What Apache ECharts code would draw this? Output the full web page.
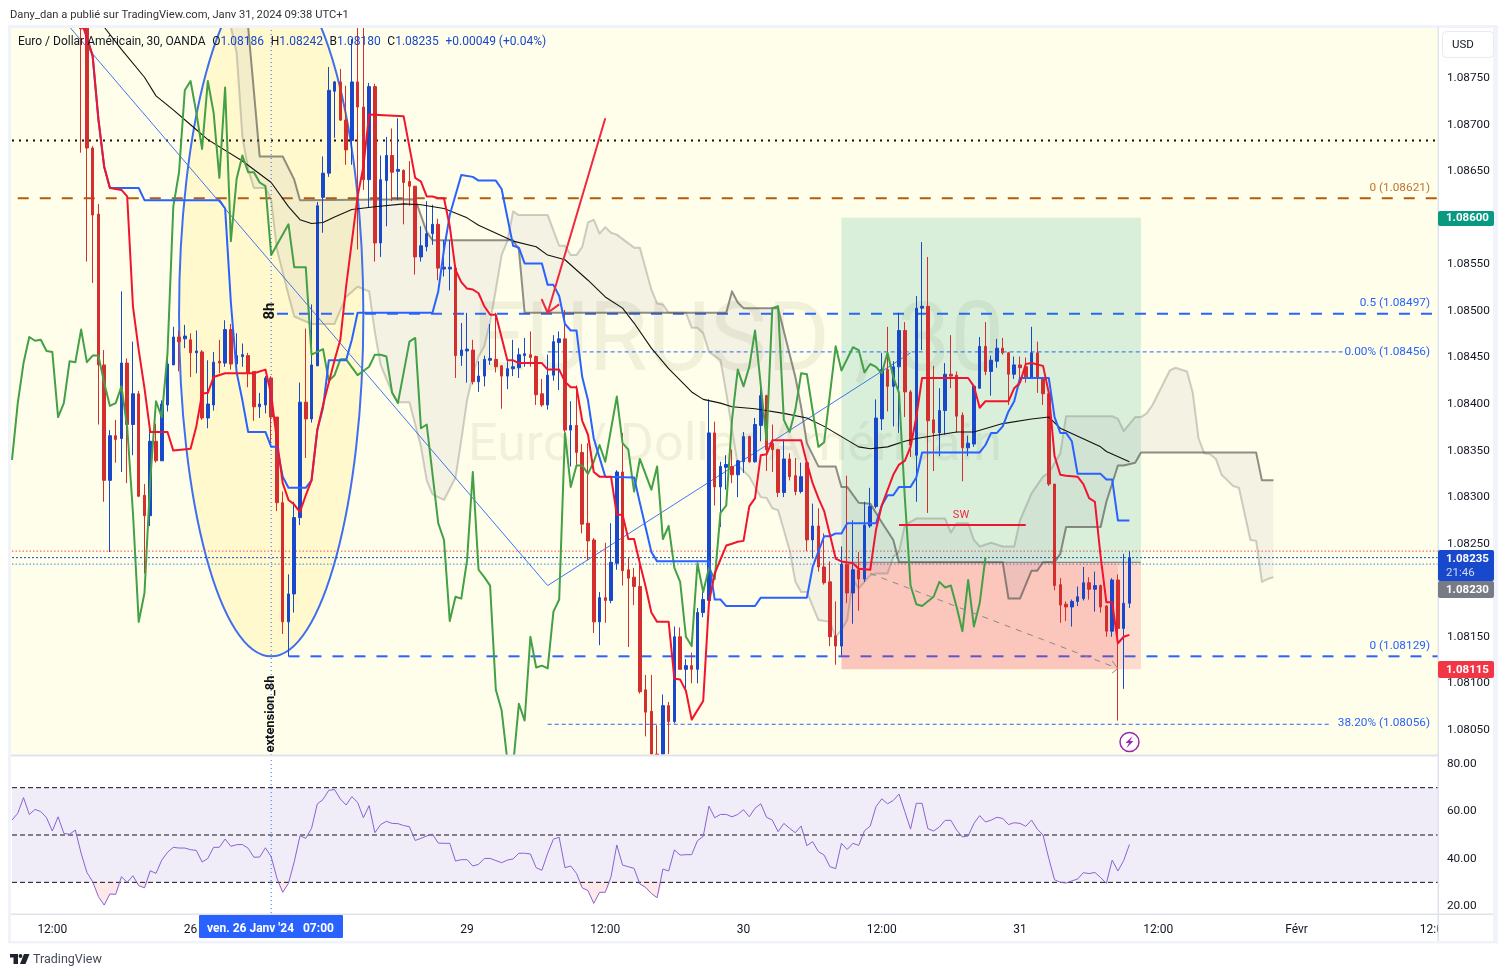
<!DOCTYPE html>
<html><head><meta charset="utf-8"><title>EURUSD</title>
<style>html,body{margin:0;padding:0;background:#fff}#c{width:1508px;height:977px}</style>
<script src="https://cdn.jsdelivr.net/npm/echarts@6/dist/echarts.min.js"></script></head>
<body><div id="c"></div>
<script>
// All prices below are written as n, meaning 1.08000 + n/100000. Line arrays hold [bar index, n].
const priceOf = n => +(1.08 + n / 100000).toFixed(5);
const firstCandle = 12;
// [open, close, low, high]; bars running off the pane are held at the pane edge
const candles = [
[805,803,670,805],[805,675,553,805],[675,603,530,677],[604,442,378,615],[442,318,295,458],[318,366,241,372],[366,362,337,383],[363,444,327,521],[444,378,315,449],[378,411,345,467],
[411,301,300,414],[302,280,218,314],[280,360,269,378],[360,339,337,379],[339,400,339,404],[399,443,392,451],[442,472,442,483],[472,467,435,479],[470,473,460,485],[469,455,429,476],
[455,457,433,479],[456,385,383,458],[385,400,374,447],[399,445,393,456],[446,444,433,469],[444,480,440,490],[480,443,437,486],[443,452,437,476],[451,453,440,465],[452,433,418,455],
[435,397,382,435],[397,400,385,412],[399,428,390,430],[428,386,358,430],[386,294,285,386],[294,166,153,306],[166,196,129,217],[196,278,176,295],[278,402,270,423],[402,384,342,481],
[384,442,380,507],[441,613,441,617],[622,648,584,666],[648,737,644,762],[736,746,686,747],[746,705,704,760],[705,673,657,742],[683,746,657,792],[746,719,566,805],[719,641,630,805],
[641,741,611,745],[741,573,553,744],[573,641,558,667],[640,667,591,687],[667,649,618,696],[650,652,619,707],[651,638,593,652],[639,634,613,661],[634,558,539,634],[558,570,553,591],
[569,583,564,618],[583,593,571,614],[593,546,533,599],[545,547,537,576],[545,547,522,576],[546,452,428,548],[452,458,441,487],[457,459,423,498],[458,424,421,469],[424,430,413,446],
[430,448,419,452],[447,449,442,486],[448,440,434,498],[441,430,395,442],[430,438,416,446],[438,440,430,469],[439,453,428,460],[452,454,440,471],[453,450,440,478],[451,410,399,452],
[411,399,397,427],[399,431,394,453],[431,467,425,474],[466,470,415,478],[470,372,370,501],[372,377,333,403],[377,348,333,420],[348,271,261,357],[272,253,232,358],[254,166,154,256],
[166,192,141,198],[192,189,165,251],[189,230,186,272],[229,327,222,329],[327,221,205,369],[222,213,139,235],[214,204,184,224],[204,91,89,235],[93,69,43,109],[70,24,24,109],
[24,23,23,55],[24,76,24,88],[76,59,24,80],[59,150,57,161],[150,115,115,160],[115,119,93,126],[119,115,100,133],[115,176,100,181],[176,190,171,198],[189,369,189,405],
[369,311,291,381],[311,333,268,338],[332,335,308,345],[333,324,315,351],[324,339,300,340],[338,365,326,370],[365,338,337,366],[338,378,337,385],[377,409,360,423],[409,351,328,410],
[358,351,327,378],[351,305,300,352],[305,341,300,362],[341,322,318,347],[323,306,302,342],[306,322,304,337],[337,254,242,339],[254,269,234,293],[269,225,220,288],[225,208,206,261],
[209,150,140,231],[151,140,120,188],[140,228,130,247],[228,197,186,323],[197,222,164,275],[222,212,178,241],[212,270,209,295],[269,290,267,310],[290,385,288,405],[384,437,372,455],
[437,419,392,483],[419,440,376,446],[440,479,369,498],[479,413,386,488],[413,356,343,415],[345,503,295,516],[503,505,458,574],[505,382,283,558],[383,369,328,441],[369,393,344,417],
[393,432,367,444],[432,430,417,474],[431,387,369,435],[388,353,317,391],[353,358,344,366],[357,419,354,419],[417,462,417,472],[462,435,431,488],[435,447,409,452],[446,460,439,470],
[460,455,453,471],[455,432,399,456],[432,442,427,451],[442,439,420,451],[440,429,423,450],[429,455,428,483],[455,428,412,467],[428,411,399,429],[411,314,312,412],[314,205,200,314],
[206,184,165,213],[185,182,167,188],[182,188,161,190],[188,193,183,204],[191,208,189,225],[208,201,190,214],[201,205,177,220],[205,182,176,206],[183,156,150,184],[156,211,150,213],
[211,159,60,217],[159,186,94,239],[186,235,181,242]];

const blueLine = [[12,813],[14,774],[15,706],[16,655],[17,632],[22,632],[23,619],[36,619],[37,610],[38,509],[39,434],[40,404],[41,370],[44,370],[45,354],[46,354],[47,322],[48,310],[51,310],[52,318],[53,372],[54,396],[55,447],[58,447],[59,469],[60,498],[73,498],[74,521],[75,566],[76,603],[78,646],[80,644],[81,640],[84,640],[85,631],[87,570],[88,568],[89,551],[92,551],[93,528],[94,528],[95,516],[96,486],[97,479],[98,479],[99,429],[100,404],[101,363],[103,322],[108,321],[109,294],[111,241],[112,231],[121,231],[122,190],[123,190],[124,183],[129,183],[130,192],[138,192],[139,225],[141,258],[142,258],[143,261],[144,261],[145,272],[150,272],[151,291],[152,302],[153,302],[154,311],[156,311],[157,321],[158,348],[168,348],[169,356],[170,369],[171,369],[172,376],[173,392],[174,403],[175,428],[180,428],[181,386],[182,369],[183,369],[184,360],[185,325],[189,325],[190,319],[191,319],[192,275],[194,275]];

const redLine = [[12,813],[14,774],[15,706],[16,655],[17,632],[19,630],[20,623],[21,505],[22,458],[23,417],[24,370],[27,370],[28,350],[31,352],[32,376],[33,411],[34,412],[35,429],[37,433],[42,433],[44,437],[45,410],[46,361],[47,315],[48,297],[49,292],[50,284],[51,302],[52,318],[53,372],[54,399],[56,447],[57,469],[58,526],[60,623],[61,655],[62,711],[68,709],[70,643],[71,639],[72,623],[73,623],[74,621],[75,621],[76,591],[77,544],[78,531],[79,524],[80,523],[81,519],[82,505],[83,496],[84,496],[86,447],[87,447],[88,444],[92,444],[93,437],[95,437],[96,424],[97,418],[98,418],[99,382],[100,367],[101,327],[102,322],[104,322],[105,281],[106,281],[107,255],[108,255],[109,229],[110,204],[111,176],[112,166],[114,166],[115,105],[116,104],[117,92],[118,61],[120,81],[121,187],[122,218],[123,233],[124,248],[125,250],[126,252],[127,253],[128,290],[129,299],[130,345],[131,346],[132,361],[137,361],[138,337],[139,315],[140,299],[141,285],[143,234],[144,231],[146,229],[147,223],[149,222],[150,265],[151,291],[153,324],[154,335],[155,339],[156,354],[157,386],[158,428],[166,428],[167,419],[168,396],[169,403],[173,403],[174,417],[175,423],[176,443],[177,444],[179,441],[180,412],[181,344],[182,324],[183,323],[185,322],[186,314],[187,299],[188,295],[189,236],[190,187],[191,187],[192,143],[193,150],[194,152]];

const greenLine = [[0,340],[1,401],[2,444],[3,472],[4,468],[5,469],[6,457],[7,456],[8,386],[9,401],[10,446],[11,445],[12,480],[13,445],[14,452],[15,452],[16,423],[17,398],[18,401],[19,419],[20,375],[21,283],[22,166],[23,197],[24,318],[25,403],[26,386],[27,455],[28,612],[29,649],[30,737],[31,747],[32,713],[33,674],[34,747],[35,713],[36,643],[37,740],[38,575],[39,642],[40,667],[41,649],[42,649],[43,638],[44,634],[45,560],[48,593],[49,547],[51,547],[52,453],[54,459],[55,425],[56,431],[57,448],[58,448],[60,431],[62,440],[63,453],[64,453],[65,451],[66,412],[67,401],[69,467],[70,471],[71,374],[72,378],[74,272],[75,254],[76,167],[77,193],[78,191],[79,232],[80,327],[81,222],[82,214],[83,205],[84,93],[85,71],[86,17],[87,12],[88,78],[89,60],[90,150],[91,117],[92,119],[93,116],[94,177],[95,190],[96,369],[97,311],[98,334],[99,334],[100,325],[101,338],[102,356],[103,338],[105,408],[106,358],[107,351],[108,306],[109,341],[111,308],[112,333],[113,255],[114,269],[115,224],[116,209],[117,150],[118,140],[119,229],[120,198],[121,224],[122,212],[123,283],[124,291],[125,383],[126,437],[127,419],[128,440],[129,479],[131,361],[132,503],[133,505],[134,383],[135,370],[136,394],[137,433],[138,432],[140,354],[141,359],[143,462],[144,436],[146,461],[147,458],[148,434],[149,443],[150,440],[151,433],[152,455],[153,429],[154,412],[155,300],[156,205],[157,185],[158,183],[160,193],[161,209],[162,203],[163,205],[164,182],[165,156],[166,211],[167,161],[168,186],[169,235]];

const blackLine = [[16,805],[19,781],[23,751],[25,731],[28,716],[31,700],[34,684],[40,661],[45,638],[48,612],[50,598],[52,594],[54,595],[56,601],[59,609],[63,612],[68,615],[71,614],[75,610],[79,600],[81,592],[87,575],[91,569],[93,560],[96,555],[98,544],[100,533],[103,515],[106,503],[108,487],[111,460],[114,438],[118,413],[120,405],[123,401],[125,397],[129,395],[134,390],[138,385],[141,376],[144,365],[147,354],[149,352],[152,354],[155,360],[157,363],[161,367],[164,370],[167,370],[172,379],[177,384],[180,386],[182,374],[189,354],[190,349],[194,338]];

const spanA = [[38,805],[39,777],[40,687],[41,652],[42,632],[44,632],[45,619],[46,566],[48,517],[49,494],[52,486],[56,486],[58,515],[60,526],[62,521],[63,477],[64,442],[66,412],[67,402],[69,402],[71,354],[72,318],[73,303],[75,297],[77,321],[78,361],[79,404],[80,431],[81,451],[82,462],[83,488],[84,523],[85,560],[86,575],[87,607],[88,603],[93,603],[95,570],[96,570],[97,560],[98,560],[99,569],[100,595],[101,598],[102,583],[103,590],[104,584],[105,582],[108,568],[109,568],[111,523],[112,508],[113,507],[114,498],[117,498],[118,482],[119,482],[120,476],[121,456],[123,447],[124,412],[126,334],[128,322],[129,311],[130,300],[131,299],[132,288],[133,286],[135,243],[136,209],[137,198],[138,198],[140,168],[142,166],[143,150],[144,157],[145,168],[146,211],[147,202],[149,216],[150,218],[152,218],[153,236],[154,241],[155,270],[157,277],[162,277],[163,262],[164,272],[166,272],[167,254],[168,247],[170,251],[172,247],[174,247],[175,275],[177,304],[179,322],[180,326],[182,347],[183,387],[191,387],[192,384],[193,371],[195,386],[196,386],[197,390],[198,399],[201,436],[202,439],[204,435],[205,412],[206,363],[207,347],[208,346],[209,341],[210,324],[211,318],[212,312],[213,310],[215,254],[216,253],[217,209],[218,212],[219,214]];

const spanB = [[41,805],[43,666],[47,666],[49,641],[50,619],[70,620],[72,585],[73,576],[87,576],[88,566],[89,498],[124,498],[125,521],[126,509],[127,503],[133,503],[136,429],[137,397],[138,358],[140,333],[143,333],[144,311],[145,311],[147,294],[149,293],[151,273],[153,254],[154,230],[172,230],[173,191],[175,191],[177,221],[178,221],[179,230],[181,230],[182,239],[183,268],[189,268],[190,295],[192,334],[193,334],[195,337],[196,348],[216,348],[217,318],[219,318]];

const rsiValues = [56.3,59.2,65.8,58.7,60.8,59.9,57.3,51.7,57.7,50.7,50.3,52.1,42.3,34.2,30.3,24,20.4,25.1,24.9,32.4,30,32.8,28.6,27.7,34.9,33.8,39.4,42.7,44.8,44.5,44.5,43.8,43.5,38.6,40.1,44.8,44.8,48.3,45.2,45.9,46,44.4,40.6,40.7,44.6,40.8,31.7,25.8,29.6,38.7,49.7,48.6,52.8,63.1,65,68.9,69.2,65.2,62.7,66.2,63.8,57.3,62.4,51,54.4,55.8,54.9,54.8,54,53.5,47.7,48.6,49.6,50.4,46.6,46.5,46.5,39,39.6,39.6,36.9,37.6,40.1,40.1,39.2,38.3,39.4,39.9,42.3,42.3,42,36.2,35.1,42.3,48.3,49,36.2,36.9,33.8,27.7,26.5,21.1,25.8,25.8,32.4,45.8,37.3,36.6,35.9,29.3,27.9,25.3,23.5,35.6,34.8,43.7,41.5,41.7,41.7,47.6,49.4,62.2,57.3,58.7,58.7,57.7,58.7,60.7,57.7,61.3,63.2,57.5,56.3,51.4,54.9,52.8,51,53.8,45.5,47.2,43,41.5,36.6,35.8,46.5,43.9,46.5,45.6,51.8,53.8,62,65.3,63.2,64.6,67.3,59.9,52.5,63.4,63.4,52.7,51.7,53.4,56.2,56.2,52.1,49.2,49.6,54.9,58.2,55.5,56.3,57.5,57,54.4,55.2,54.9,53.7,56.3,52.5,50,40.1,31.1,30,29.7,30.6,31.4,34.1,33.7,34.2,32,29.6,39.4,34.8,39.2,46];

const barCount = 249;
const tickLabels = {7:'12:00',31:'26',79:'29',103:'12:00',127:'30',151:'12:00',175:'31',199:'12:00',223:'Févr',247:'12:00'};
const priceTicks = [1.0805,1.081,1.0815,1.082,1.0825,1.083,1.0835,1.084,1.0845,1.085,1.0855,1.086,1.0865,1.087,1.0875];
const rsiTicks = [20,40,60,80];
const rsiLevels = [70,50,30];
const cursorBar = 45;
const trendLine = [[10,805],[93,205],[156,455]];
const redArrow = [[103,707],[93,498],[92,512],[93,498],[95,507]];
const grayArrow = [[149,218],[192,116]];
const grayArrowHead = [[191,124],[192,116],[191,111]];
const swLine = [[154,270],[176,270]];
// level, from bar, to bar, colour, width, dash
const levels = [
 [683,0,248,'#111',2,[2,5]],
 [621,1,248,'#b35c0e',2,[11,11]],
 [497,46,248,'#2962ff',2,[11,11]],
 [456,93,231,'#2962ff',1,[4,3]],
 [129,48,248,'#2962ff',2,[11,11]],
 [56,93,229,'#2962ff',1,[4,3]],
 [242,0,248,'#f0504f',1,[1.5,2]],
 [235,0,248,'#1848cc',1,[2,2]],
 [228,0,248,'#2f8fe8',1,[1.5,2]]
];
// bar from, n from, bar to, n to, colour
const zones = [
 [144,600,196,230,'rgba(8,153,129,0.15)'],
 [144,230,192,115,'rgba(242,54,69,0.28)'],
 [192,230,196,115,'rgba(242,54,69,0.17)']
];
const entryLine = [[144,230],[196,230]];
const ellipseBox = {left:29,right:61,centre:496,bottom:129};

const FONT = 'Roboto';
const pts = a => a.map(([i,n]) => [i, priceOf(n)]);
const line = (data,color,width,z,extra) => Object.assign({type:'line',xAxisIndex:0,yAxisIndex:0,data:pts(data),symbol:'none',silent:true,z,animation:false,
  lineStyle:{color,width,cap:'butt',join:'round'}},extra||{});
const custom = (z,render) => ({type:'custom',xAxisIndex:0,yAxisIndex:0,data:[[0,priceOf(300)]],clip:true,z,silent:true,animation:false,renderItem:render});

const categories = Array.from({length:barCount},(_,i)=>'bar'+i);
const blank = [NaN,NaN,NaN,NaN];
const candleData = Array.from({length:firstCandle},()=>blank.slice()).concat(candles.map(c=>c.map(priceOf)));
const clipped = rsiValues.map((v,i)=>[i,Math.min(v,30)]);

const series = [
 custom(2,(p,api)=>{
   const c=api.coord([(ellipseBox.left+ellipseBox.right)/2,priceOf(ellipseBox.centre)]);
   const l=api.coord([ellipseBox.left,priceOf(ellipseBox.centre)]), r=api.coord([ellipseBox.right,priceOf(ellipseBox.centre)]);
   const b=api.coord([45,priceOf(ellipseBox.bottom)]);
   return {type:'ellipse',shape:{cx:(l[0]+r[0])/2,cy:c[1],rx:(r[0]-l[0])/2,ry:b[1]-c[1]},style:{fill:'rgba(255,232,90,0.2)',stroke:'#3f6ff0',lineWidth:2}};
 })
];
levels.forEach(l=>series.push(line([[l[1],l[0]],[l[2],l[0]]],l[3],l[4],3,{lineStyle:{color:l[3],width:l[4],type:l[5]}})));
series.push(line(trendLine,'#3f74f5',1,3));
zones.forEach(zn=>series.push(custom(4,(p,api)=>{
   const a=api.coord([zn[0],priceOf(zn[1])]), b=api.coord([zn[2],priceOf(zn[3])]);
   return {type:'rect',shape:{x:a[0],y:a[1],width:b[0]-a[0],height:b[1]-a[1]},style:{fill:zn[4]}};
})));
series.push(line(entryLine,'rgba(90,90,90,0.8)',1,4));
series.push(custom(5,(p,api)=>{
   const poly=spanA.concat(spanB.slice().reverse()).map(([i,n])=>api.coord([i,priceOf(n)]));
   return {type:'polygon',shape:{points:poly},style:{fill:'rgba(140,135,170,0.1)'}};
}));
series.push(line(spanA,'rgba(110,110,105,0.32)',2,5));
series.push(line(spanB,'rgba(85,85,80,0.65)',2,5));
series.push({type:'candlestick',xAxisIndex:0,yAxisIndex:0,data:candleData,barWidth:3,z:6,silent:true,animation:false,
  itemStyle:{color:'#1848cc',color0:'#d32f2f',borderColor:'#1848cc',borderColor0:'#d32f2f',borderWidth:1}});
series.push(line(blackLine,'#111',1.1,7));
series.push(line(greenLine,'#43a047',2,7));
series.push(line(blueLine,'#2962ff',2,7));
series.push(line(redLine,'#f2142f',2,7));
series.push(line(redArrow,'#f2283f',2,7));
series.push(line(grayArrow,'#8a8a8a',1,7,{lineStyle:{color:'#8a8a8a',width:1,type:[6,6]}}));
series.push(line(grayArrowHead,'#8a8a8a',1,7));
series.push(line(swLine,'#f2142f',2,7));
series.push(line([[cursorBar,23],[cursorBar,805]],'#2962ff',1,7,{lineStyle:{color:'#2962ff',width:1,type:[1,3]}}));
// RSI pane
series.push({type:'custom',xAxisIndex:1,yAxisIndex:1,data:[[0,50]],clip:true,z:2,silent:true,animation:false,renderItem:(p,api)=>{
   const a=api.coord([0,70]), b=api.coord([248,30]);
   return {type:'rect',shape:{x:a[0],y:a[1],width:b[0]-a[0],height:b[1]-a[1]},style:{fill:'rgba(126,87,194,0.11)'}};
}});
rsiLevels.forEach(v=>series.push({type:'line',xAxisIndex:1,yAxisIndex:1,data:[[0,v],[248,v]],symbol:'none',silent:true,z:3,animation:false,lineStyle:{color:'#111',width:1,type:[5,3]}}));
series.push({type:'line',xAxisIndex:1,yAxisIndex:1,data:clipped,symbol:'none',silent:true,z:3,animation:false,lineStyle:{width:0},
  areaStyle:{origin:30,color:'rgba(242,54,69,0.16)'}});
series.push({type:'line',xAxisIndex:1,yAxisIndex:1,data:rsiValues.map((v,i)=>[i,v]),symbol:'none',silent:true,z:4,animation:false,lineStyle:{color:'#8a63d2',width:1}});
series.push({type:'line',xAxisIndex:1,yAxisIndex:1,data:[[cursorBar,17],[cursorBar,82]],symbol:'none',silent:true,z:4,animation:false,lineStyle:{color:'#2962ff',width:1,type:[1,3]}});

const T=(x,y,text,color,size,align,weight)=>({type:'text',x,y,z:300,silent:true,style:{text,fill:color,font:(weight?weight+' ':'')+(size||12)+'px '+FONT,textAlign:align||'left',textVerticalAlign:'middle'}});
const R=(x,y,w,h,fill,z,r)=>({type:'rect',silent:true,z:z==null?100:z,shape:{x,y,width:w,height:h,r:r||0},style:{fill}});
const graphics=[
 R(11,27,1427,728,'#fffeea',0),
 {type:'text',x:738,y:346,z:1,silent:true,style:{text:'EURUSD , 30',fill:'rgba(100,100,60,0.09)',font:'96px '+FONT,textAlign:'center',textVerticalAlign:'middle'}},
 {type:'text',x:735,y:447,z:1,silent:true,style:{text:'Euro / Dollar Américain',fill:'rgba(100,100,60,0.09)',font:'52px '+FONT,textAlign:'center',textVerticalAlign:'middle'}},
 // right scale and frame
 R(1438,27,55,914,'#ffffff',100),
 R(11,914,1427,27,'#ffffff',-1),
 R(8,25,1490,3,'#f0f3fa',101), R(8,25,3,918,'#f0f3fa',101), R(1493,25,5,918,'#f0f3fa',101), R(8,941,1490,2.5,'#f0f3fa',101),
 R(1437.5,27,1.5,914,'#e0e3eb',101), R(11,754.5,1427,2,'#e0e3eb',101), R(11,913.5,1482,1.5,'#e0e3eb',101),
 // header texts
 T(10,15,'Dany_dan a publié sur TradingView.com, Janv 31, 2024 09:38 UTC+1','#333',11.2),
 {type:'text',x:18,y:42,z:300,silent:true,style:{
   text:'{a|Euro / Dollar Américain, 30, OANDA}  {a|O}{v|1.08186}  {a|H}{v|1.08242}  {a|B}{v|1.08180}  {a|C}{v|1.08235}  {v|+0.00049 (+0.04%)}',
   textVerticalAlign:'middle',rich:{a:{fill:'#131722',font:'12px '+FONT},v:{fill:'#1848cc',font:'12px '+FONT}}}},
 // USD box
 {type:'rect',z:300,silent:true,shape:{x:1442.5,y:31.5,width:51,height:26,r:4},style:{fill:'#fff',stroke:'#e8eaf0',lineWidth:1}},
 T(1452,45,'USD','#131722',11.5),
 // price tags
 R(1438,211,56,15,'#089981',300,2), T(1446,218.5,'1.08600','#fff',11.5,'left','bold'),
 R(1438,550,56,31,'#1848cc',300,2), T(1446,559,'1.08235','#fff',11.5,'left','bold'), T(1446,573,'21:46','#cfd8f5',11.5),
 R(1438,581,56,17,'#787b86',300,2), T(1446,590,'1.08230','#fff',11.5,'left','bold'),
 R(1438,661,56,17,'#f23645',300,2), T(1446,670,'1.08115','#fff',11.5,'left','bold'),
 // fib labels
 T(1430,188,'0 (1.08621)','#bd7434',11.8,'right'),
 T(1430,303,'0.5 (1.08497)','#2962ff',11.8,'right'),
 T(1430,352,'0.00% (1.08456)','#2962ff',11.8,'right'),
 T(1430,646,'0 (1.08129)','#2962ff',11.8,'right'),
 T(1430,723,'38.20% (1.08056)','#2962ff',11.8,'right'),
 T(961,515,'SW','#f2283f',11,'center'),
 // rotated labels
 {type:'text',x:270,y:311,z:300,silent:true,rotation:Math.PI/2,style:{text:'8h',fill:'#111',font:'bold 15px '+FONT,textAlign:'center',textVerticalAlign:'middle'}},
 {type:'text',x:271,y:714,z:300,silent:true,rotation:Math.PI/2,style:{text:'extension_8h',fill:'#111',font:'bold 12.9px '+FONT,textAlign:'center',textVerticalAlign:'middle'}},
 // cursor date
 R(199,915,144,23,'#2962ff',300,1),
 T(207,928.5,"ven. 26 Janv '24   07:00",'#fff',12,'left','bold'),
 // alert icon
 {type:'circle',z:300,silent:true,shape:{cx:1129.5,cy:742,r:9.5},style:{fill:'#fff',stroke:'#9c27b0',lineWidth:1.5}},
 {type:'polygon',z:301,silent:true,shape:{points:[[1132.5,736],[1125.5,743],[1129,743],[1126.5,748],[1133.5,741],[1130,741]]},style:{fill:'#9c27b0'}},
 // TradingView logo
 R(10,954,8,3.5,'#1e222d',300), R(13.5,954,4.5,10,'#1e222d',300),
 {type:'circle',z:300,silent:true,shape:{cx:20.5,cy:956,r:1.9},style:{fill:'#1e222d'}},
 {type:'polygon',z:300,silent:true,shape:{points:[[24,954],[29.5,954],[25.5,964],[20,964]]},style:{fill:'#1e222d'}},
 T(33,959.5,'TradingView','#444a5a',12.5)
];

const chart=echarts.init(document.getElementById('c'),null,{renderer:'canvas'});
const hiddenX=(gridIndex)=>({type:'category',gridIndex,data:categories,boundaryGap:false,axisLine:{show:false},axisTick:{show:false},splitLine:{show:false},axisLabel:{show:false},axisPointer:{show:false}});
chart.setOption({
 animation:false,backgroundColor:'#fff',textStyle:{fontFamily:FONT},
 grid:[{left:12,top:27,width:1428.48,height:728,containLabel:false},{left:12,top:757,width:1428.48,height:157,containLabel:false}],
 xAxis:[hiddenX(0),Object.assign(hiddenX(1),{axisLabel:{show:true,margin:9.5,color:'#131722',fontSize:12,fontFamily:FONT,interval:i=>!!tickLabels[i],formatter:(v,i)=>tickLabels[i]||''}})],
 yAxis:[
  {type:'value',gridIndex:0,position:'right',min:priceOf(22.7),max:priceOf(805.5),scale:true,z:200,axisLine:{show:false},axisTick:{show:false},splitLine:{show:false},
   axisLabel:{customValues:priceTicks,margin:6.5,padding:[2,0,0,0],color:'#131722',fontSize:11.8,fontFamily:FONT,formatter:v=>v.toFixed(5)}},
  {type:'value',gridIndex:1,position:'right',min:16.63,max:82.96,z:200,axisLine:{show:false},axisTick:{show:false},splitLine:{show:false},
   axisLabel:{customValues:rsiTicks,margin:6.5,padding:[2,0,0,0],color:'#131722',fontSize:11.8,fontFamily:FONT,formatter:v=>v.toFixed(2)}}
 ],
 series,graphic:{elements:graphics}
});
</script></body></html>
